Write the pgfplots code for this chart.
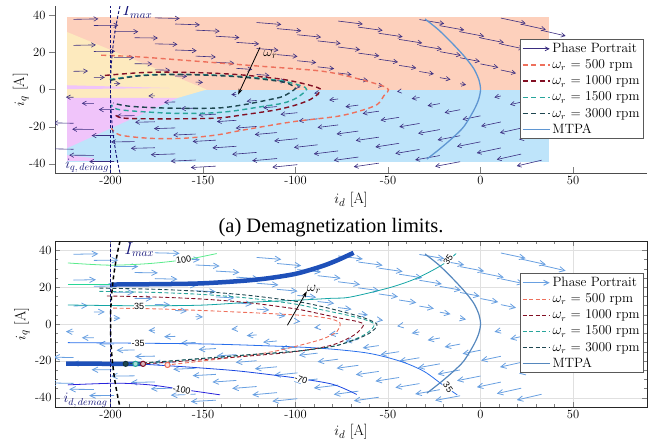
\documentclass[border=0pt]{standalone}
\usepackage{fontspec}
\newfontfamily\timesf{Liberation Serif}
\newfontfamily\arialf{Liberation Sans}
\usepackage{pgfplots}
\usepackage{pgfplotstable}
\pgfplotsset{compat=1.18}
\usetikzlibrary{arrows.meta}
\definecolor{peach}{RGB}{253,208,188}
\definecolor{lblue}{RGB}{190,228,250}
\definecolor{lyellow}{RGB}{253,234,190}
\definecolor{lpink}{RGB}{240,196,250}
\definecolor{navyq}{RGB}{58,45,128}
\definecolor{qblue}{RGB}{105,160,225}
\definecolor{c500}{RGB}{238,112,92}
\definecolor{c1000}{RGB}{130,15,35}
\definecolor{c1500}{RGB}{40,165,155}
\definecolor{c3000}{RGB}{30,70,80}
\definecolor{mtpa}{RGB}{95,150,210}
\definecolor{navyl}{RGB}{20,20,120}
\definecolor{thickc}{RGB}{30,80,185}
\definecolor{k100}{RGB}{90,235,140}
\definecolor{k70}{RGB}{40,215,150}
\definecolor{k35}{RGB}{20,165,165}
\definecolor{km35}{RGB}{40,110,235}
\definecolor{km70}{RGB}{25,70,225}
\definecolor{km100}{RGB}{40,35,220}

\pgfplotstableread{
x y u v
-220 37.8 13.4 0.27
-220 23.8 12.1 0.24
-220 9.8 7.8 0.16
-220 -4.2 -4.1 0.08
-220 -18.2 -10.9 0.22
-220 -32.2 -13.0 0.26
-209 34.5 13.2 0.12
-209 20.5 11.5 0.10
-209 6.5 5.9 0.05
-209 -7.5 -6.5 0.06
-209 -21.5 -11.7 0.10
-209 -35.5 -13.3 0.12
-198 31.2 13.0 -0.03
-198 17.2 10.7 -0.02
-198 3.2 3.3 -0.01
-198 -10.8 -8.3 -0.02
-198 -24.8 -12.2 -0.02
-198 -38.8 -13.5 -0.03
-187 27.9 12.6 -0.16
-187 13.9 9.6 -0.12
-187 -14.1 -9.7 -0.13
-187 -28.1 -12.7 -0.16
-176 38.6 13.4 -0.32
-176 24.6 12.2 -0.29
-176 10.6 8.2 -0.20
-176 -3.4 -3.5 -0.08
-176 -17.4 -10.7 -0.26
-176 -31.4 -13.0 -0.31
-165 35.3 13.3 -0.46
-165 21.3 11.6 -0.41
-165 7.3 6.4 -0.22
-165 -6.7 -6.0 -0.21
-165 -20.7 -11.5 -0.40
-165 -34.7 -13.2 -0.46
-154 32 13.0 -0.60
-154 18 10.9 -0.50
-154 4 4.0 -0.18
-154 -10 -7.9 -0.36
-154 -24 -12.1 -0.56
-154 -38 -13.4 -0.62
-143 28.7 12.7 -0.73
-143 14.7 9.9 -0.56
-143 -13.3 -9.4 -0.53
-143 -27.3 -12.6 -0.72
-143 -41.3 -13.6 -0.77
-132 25.4 12.3 -0.84
-132 11.4 8.6 -0.58
-132 -2.6 -2.7 -0.19
-132 -16.6 -10.5 -0.71
-132 -30.6 -12.9 -0.88
-121 36.1 13.3 -1.05
-121 22.1 11.8 -0.93
-121 8.1 6.9 -0.54
-121 -5.9 -5.4 -0.43
-121 -19.9 -11.3 -0.90
-121 -33.9 -13.2 -1.04
-110 32.8 13.1 -1.18
-110 18.8 11.1 -1.00
-110 4.8 4.6 -0.42
-110 -9.2 -7.5 -0.67
-110 -23.2 -12.0 -1.08
-110 -37.2 -13.4 -1.20
-99 29.5 12.8 -1.29
-99 15.5 10.2 -1.03
-99 1.5 1.6 -0.17
-99 -12.5 -9.1 -0.91
-99 -26.5 -12.5 -1.26
-99 -40.5 -13.5 -1.37
-88 26.2 12.4 -1.39
-88 12.2 8.9 -1.00
-88 -1.8 -1.9 -0.22
-88 -15.8 -10.2 -1.15
-88 -29.8 -12.8 -1.44
-77 36.9 13.4 -1.64
-77 22.9 11.9 -1.47
-77 8.9 7.3 -0.90
-77 -5.1 -4.8 -0.60
-77 -19.1 -11.1 -1.37
-77 -33.1 -13.1 -1.61
-66 33.6 13.1 -1.76
-66 19.6 11.3 -1.51
-66 5.6 5.2 -0.70
-66 -8.4 -7.0 -0.94
-66 -22.4 -11.8 -1.59
-66 -36.4 -13.3 -1.79
-55 30.3 12.9 -1.87
-55 16.3 10.4 -1.51
-55 2.3 2.4 -0.35
-55 -11.7 -8.7 -1.26
-55 -25.7 -12.4 -1.79
-55 -39.7 -13.5 -1.95
-44 27 12.5 -1.95
-44 13 9.3 -1.44
-44 -1 -1.1 -0.17
-44 -15 -10.0 -1.56
-44 -29 -12.8 -1.99
-33 37.7 13.4 -2.24
-33 23.7 12.1 -2.01
-33 9.7 7.8 -1.30
-33 -4.3 -4.2 -0.70
-33 -18.3 -10.9 -1.83
-33 -32.3 -13.0 -2.18
-22 34.4 13.2 -2.35
-22 20.4 11.4 -2.04
-22 6.4 5.8 -1.03
-22 -7.6 -6.6 -1.17
-22 -21.6 -11.7 -2.08
-22 -35.6 -13.3 -2.36
-11 31.1 13.0 -2.45
-11 17.1 10.6 -2.01
-11 3.1 3.2 -0.60
-11 -10.9 -8.4 -1.58
-11 -24.9 -12.2 -2.31
-11 -38.9 -13.5 -2.54
0 27.8 12.6 -2.52
0 13.8 9.6 -1.91
0 -14.2 -9.7 -1.94
0 -28.2 -12.7 -2.53
11 38.5 13.4 -2.84
11 24.5 12.2 -2.57
11 10.5 8.2 -1.72
11 -3.5 -3.5 -0.75
11 -17.5 -10.7 -2.27
11 -31.5 -13.0 -2.74
22 35.2 13.3 -2.94
22 21.2 11.6 -2.58
22 7.2 6.3 -1.40
22 -6.8 -6.0 -1.34
22 -20.8 -11.5 -2.56
22 -34.8 -13.2 -2.93
33 31.9 13.0 -3.03
33 17.9 10.9 -2.53
33 3.9 3.9 -0.90
33 -10.1 -8.0 -1.86
33 -24.1 -12.1 -2.82
33 -38.1 -13.4 -3.13
}\quiv

\pgfplotsset{
  base/.style={
    scale only axis, width=592pt,
    xmin=-230, xmax=90, ymin=-45, ymax=45,
    xtick={-200,-150,-100,-50,0,50}, xticklabels={-200,-150,-100,-50,0,50},
    ytick={-40,-20,0,20,40}, yticklabels={-40,-20,0,20,40},
    tick label style={font=\fontsize{12.5}{14}\selectfont},
    label style={font=\fontsize{15}{17}\selectfont},
    xlabel={$i_d$ [A]}, ylabel={$i_q$ [A]},
    legend cell align=left,
    legend image code/.code={\draw[##1] (0cm,0cm) -- (0.95cm,0cm);},
    legend style={font=\fontsize{13.5}{15}\selectfont, fill=white,
      draw=black!65, line width=0.9pt, inner sep=1.5pt, row sep=1.6pt,
      at={(0.7855,0.80)}, anchor=north west},
  },
}

\begin{document}
\begin{tikzpicture}
\useasboundingbox (0,0) rectangle (655pt,445pt);

% ================= TOP =================
\begin{axis}[base, at={(55pt,272pt)}, anchor=south west, height=167pt,
  axis x line*=bottom, axis y line*=left, axis line style={-, black!70, line width=0.8pt},
  xtick align=inside, ytick align=outside, major tick length=6pt,
  xlabel style={at={(axis description cs:0.5,-0.162)}, anchor=center},
  ylabel style={at={(axis description cs:-0.058,0.5)}, anchor=center},
]
\addplot[fill=lblue, draw=none, forget plot] coordinates {(-223.5,-39) (37,-39) (37,0) (-223.5,0)} -- cycle;
\addplot[fill=peach, draw=none, forget plot] coordinates {(-223.5,0) (37,0) (37,39) (-223.5,39)} -- cycle;
\addplot[fill=lyellow, draw=none, forget plot] coordinates {(-223.5,31) (-148,0) (-163.5,-4.5) (-223.5,-4.5)} -- cycle;
\addplot[fill=lpink, draw=none, forget plot] coordinates {(-223.5,-4.5) (-163.5,-4.5) (-223.5,-31.6)} -- cycle;
\addplot[fill=lpink, draw=none, forget plot] coordinates {(-223.5,0.2) (-168,0.8) (-223.5,2.3)} -- cycle;
\addplot[fill=lpink, draw=none, forget plot] coordinates {(-223.5,-35.4) (-209,-37) (-209,-38.5) (-223.5,-38.5)} -- cycle;

\addplot[navyq, line width=0.6pt, -{Straight Barb[length=4pt,width=4.5pt]},
  quiver={u=\thisrow{u}, v=\thisrow{v}}, forget plot] table[x=x,y=y] {\quiv};

\addlegendimage{navyq, line width=0.7pt, -{Straight Barb[length=4pt,width=4pt]}}
\addlegendentry{Phase Portrait}

\addplot[c500, line width=1.4pt, dash pattern=on 5pt off 3.5pt, smooth] coordinates {
(-205,18.5) (-185,17.6) (-155.5,15.4) (-121,12.7) (-86.7,10) (-68.6,6.4) (-50.5,0.9)
(-52.4,-3.6) (-56,-8.2) (-65,-11.5) (-77.6,-14.5) (-101,-17.3) (-128,-21.8) (-142.6,-24.5)
(-160.7,-26.3) (-178.8,-26.3) (-195,-24.5) (-199.5,-20.9)};
\addlegendentry{$\omega_r$ = 500 rpm}
\addplot[c1000, line width=1.4pt, dash pattern=on 5pt off 3.5pt, smooth] coordinates {
(-203,7.6) (-185,9) (-169.7,9.4) (-150,9) (-133.6,8.2) (-120,7) (-106.5,5.4) (-95,3) (-86.7,0.4)
(-88,-2.5) (-92,-5.4) (-99.3,-8.2) (-110,-10.9) (-128,-13.6) (-142.6,-15.4) (-169.7,-15.8)
(-193.2,-15.4) (-198.6,-12.7)};
\addlegendentry{$\omega_r$ = 1000 rpm}
\addplot[c1500, line width=1.4pt, dash pattern=on 5pt off 3.5pt, smooth] coordinates {
(-200.4,5.4) (-185,7.5) (-169.7,8.2) (-150,8) (-133.6,7.3) (-120,6.2) (-106.5,4.5) (-97,2) (-94,0)
(-99.3,-4.5) (-106.5,-7.3) (-117.4,-9.1) (-135.4,-11.8) (-150,-12.8) (-169.7,-12.7) (-195,-10.9) (-199.5,-8.2)};
\addlegendentry{$\omega_r$ = 1500 rpm}
\addplot[c3000, line width=1.4pt, dash pattern=on 5pt off 3.5pt, smooth] coordinates {
(-200,5) (-185,7.3) (-169.7,8) (-150,7.8) (-133.6,7) (-120,5.8) (-106.5,4) (-101.5,2) (-100,0.5)
(-106.5,-3.6) (-113.8,-5.4) (-128,-8.2) (-142.6,-10) (-169.7,-10) (-190,-9) (-198.6,-7.3)};
\addlegendentry{$\omega_r$ = 3000 rpm}
\addplot[mtpa, line width=1.3pt, smooth] coordinates {
(-30,38) (-22.5,32) (-14.4,24) (-8,17) (-3.5,11) (-0.8,5) (0,0) (-0.9,-5) (-3.5,-11) (-9,-20) (-15,-26) (-22,-32) (-29,-37.5)};
\addlegendentry{MTPA}

\addplot[navyl, line width=0.9pt, dash pattern=on 3pt off 2pt, forget plot] coordinates {(-200,-45) (-200,45)};
\addplot[navyl, line width=0.9pt, dash pattern=on 3pt off 2pt, smooth, forget plot] coordinates {
(-194.87,45) (-195.96,40) (-196.91,35) (-197.74,30) (-198.43,25) (-199,20) (-199.44,15) (-199.75,10) (-199.94,5) (-200,0)
(-199.94,-5) (-199.75,-10) (-199.44,-15) (-199,-20) (-198.43,-25) (-197.74,-30) (-196.91,-35) (-195.96,-40) (-194.87,-45)};

\draw[-{Stealth[length=6pt,width=4pt]}, line width=0.8pt] (axis cs:-119.2,22.7) -- (axis cs:-131,-2.7);
\node[anchor=west, font=\fontsize{14}{16}\selectfont, inner sep=1pt] at (axis cs:-118,19) {$\omega_r$};
\node[anchor=west, text=navyl, font=\fontsize{16}{18}\selectfont, inner sep=0pt] at (axis cs:-193.5,42.3) {$I_{max}$};
\node[anchor=west, text=navyl, font=\fontsize{14}{16}\selectfont, inner sep=0pt] at (axis cs:-224.5,-41.3) {$i_{q,\,demag}$};
\end{axis}

\node[font=\timesf\fontsize{20.5}{23}\selectfont] at (331pt,217pt) {(a) Demagnetization limits.};

% ================= BOTTOM =================
\begin{axis}[base, at={(55pt,38pt)}, anchor=south west, height=166pt,
  axis line style={black!85, line width=0.8pt},
  tick align=inside, tick pos=both, major tick length=5pt, minor tick length=3pt,
  minor x tick num=4, minor y tick num=3,
  grid=major, grid style={black!12, line width=0.4pt},
  xlabel style={at={(axis description cs:0.5,-0.15)}, anchor=center},
  ylabel style={at={(axis description cs:-0.056,0.5)}, anchor=center},
  legend style={at={(0.7855,0.805)}},
]
\addplot[qblue, line width=0.8pt, -{Straight Barb[length=5.5pt,width=5.5pt]},
  quiver={u=\thisrow{u}, v=\thisrow{v}}, forget plot] table[x=x,y=y] {\quiv};

% torque contours
\addplot[k100, line width=0.8pt, smooth, forget plot] coordinates {(-223,33.1) (-200.4,31.9) (-178.8,32.8) (-158.9,35) (-142.6,38.2)};
\addplot[k70, line width=0.8pt, forget plot] coordinates {(-223,21.4) (-200,21.4)};
\addplot[k35, line width=0.8pt, smooth, forget plot] coordinates {(-223,10.3) (-185,9.9) (-151.7,10.2) (-124.6,11.8) (-101.1,12.8) (-81.3,13.9) (-70.4,14.6) (-48.8,19.8) (-34.3,24.9) (-20.7,32.1) (-13.2,38.2)};
\addplot[km35, line width=0.8pt, smooth, forget plot] coordinates {(-223,-10.1) (-185,-10.4) (-150,-10.8) (-124.6,-11.5) (-88.5,-13) (-61.4,-15.7) (-43.3,-20.2) (-30.7,-25.6) (-20.7,-32.8) (-12.6,-38.4)};
\addplot[km70, line width=0.8pt, smooth, forget plot] coordinates {(-182.4,-21.8) (-160,-23.2) (-133.6,-25.2) (-115,-27.3) (-97.5,-29.6) (-79.5,-32.8) (-66.9,-38.2)};
\addplot[km100, line width=0.8pt, smooth, forget plot] coordinates {(-223,-33) (-196.8,-32.1) (-178.8,-33) (-161.6,-35.4) (-140.8,-38.4)};

% thick trajectory
\addplot[thickc, line width=4.5pt, smooth, forget plot] coordinates {(-200,21.4) (-175,21.6) (-151.7,22) (-130,23.3) (-115.6,24.7) (-100,27.2) (-86.7,31) (-78,34.3) (-68.6,38.6)};
\addplot[thickc, line width=4.5pt, forget plot] coordinates {(-224,-21.5) (-183,-21.6)};

\addlegendimage{qblue, line width=0.9pt, -{Straight Barb[length=5pt,width=5pt]}}
\addlegendentry{Phase Portrait}

\addplot[c500, line width=0.9pt, dash pattern=on 4pt off 2.5pt, smooth] coordinates {
(-198.6,8.6) (-175,8.2) (-150,7.3) (-125,6.2) (-105,5.2) (-92,4.4) (-82,3) (-77.3,1.5) (-75.8,0) (-77.6,-4.1) (-85,-8) (-97.5,-11.5) (-110,-14.5) (-124.6,-17) (-150,-20) (-169.2,-22.2)};
\addlegendentry{$\omega_r$ = 500 rpm}
\addplot[c1000, line width=0.9pt, dash pattern=on 4pt off 2.5pt, smooth] coordinates {
(-202,15.2) (-175,14.6) (-150,13.5) (-125,11.5) (-100,8.2) (-86.7,5.5) (-75,3) (-66,1.2) (-63.2,-0.5) (-66.8,-4.9) (-72,-8) (-79.5,-11.2) (-90,-13.5) (-106.6,-15.7) (-124.6,-17.3) (-150,-19.3) (-170,-20.8) (-182.4,-21.6)};
\addlegendentry{$\omega_r$ = 1000 rpm}
\addplot[c1500, line width=0.9pt, dash pattern=on 4pt off 2.5pt, smooth] coordinates {
(-206,17.7) (-175,17.1) (-150,16) (-125,14) (-100,10.8) (-86.7,7.9) (-72,4.8) (-62,2.2) (-57.5,0) (-59,-3) (-64,-6.5) (-72,-9.8) (-80,-12.2) (-100,-14.8) (-124.6,-16.7) (-150,-18.7) (-170,-20.3) (-186.5,-21.6)};
\addlegendentry{$\omega_r$ = 1500 rpm}
\addplot[c3000, line width=0.9pt, dash pattern=on 4pt off 2.5pt, smooth] coordinates {
(-206,19.5) (-175,18.8) (-150,17.6) (-125,15.5) (-100,12.3) (-86.7,9.7) (-72,6) (-62,3) (-56,0) (-57,-2.5) (-61.4,-5.8) (-70,-9.3) (-79.5,-12) (-100,-14.8) (-124.6,-16.6) (-150,-18.6) (-170,-20.2) (-191.8,-21.6)};
\addlegendentry{$\omega_r$ = 3000 rpm}
\addplot[mtpa!90!black, line width=1.2pt, smooth] coordinates {
(-30,38) (-22.5,32) (-14.4,24) (-8,17) (-3.5,11) (-0.8,5) (0,0) (-0.9,-5) (-3.5,-11) (-9,-20) (-15,-26) (-22,-32) (-29,-37.5)};
\addlegendentry{MTPA}

% operating points
\addplot[only marks, mark=*, mark size=2.6pt, draw=c3000!70!black, fill=c3000, line width=0.8pt, forget plot] coordinates {(-191.8,-21.6)};
\addplot[only marks, mark=*, mark size=2.6pt, draw=c1500, fill=c1500!40!white, line width=1pt, forget plot] coordinates {(-186.5,-21.6)};
\addplot[only marks, mark=*, mark size=2.6pt, draw=c1000, fill=c1000!30!white, line width=1pt, forget plot] coordinates {(-182.4,-21.6)};
\addplot[only marks, mark=*, mark size=2.6pt, draw=c500, fill=c500!20!white, line width=1pt, forget plot] coordinates {(-169.2,-22.2)};

\addplot[navyl, line width=0.8pt, dash pattern=on 3pt off 2pt, forget plot] coordinates {(-200,-45) (-200,45)};
\addplot[black, line width=1.5pt, dash pattern=on 4pt off 3pt, smooth, forget plot] coordinates {
(-194.87,45) (-195.96,40) (-196.91,35) (-197.74,30) (-198.43,25) (-199,20) (-199.44,15) (-199.75,10) (-199.94,5) (-200,0)
(-199.94,-5) (-199.75,-10) (-199.44,-15) (-199,-20) (-198.43,-25) (-197.74,-30) (-196.91,-35) (-195.96,-40) (-194.87,-45)};

\begin{scope}[every node/.style={font=\arialf\fontsize{9}{10}\selectfont, inner sep=0.5pt, fill=white}]
\node[rotate=9] at (axis cs:-160.5,34.9) {100};
\node at (axis cs:-184.5,9.8) {35};
\node at (axis cs:-185,-10.5) {-35};
\node[rotate=-20] at (axis cs:-97,-30.1) {-70};
\node[rotate=-12] at (axis cs:-161.5,-35.8) {-100};
\node[rotate=55] at (axis cs:-17.5,35) {35};
\node[rotate=-55] at (axis cs:-17.5,-34.3) {35};
\end{scope}

\draw[-{Stealth[length=6pt,width=4pt]}, line width=0.8pt] (axis cs:-104.4,-0.7) -- (axis cs:-93.9,17.7);
\node[anchor=south west, font=\fontsize{14}{16}\selectfont, inner sep=1pt] at (axis cs:-94.5,16) {$\omega_r$};
\node[anchor=west, text=navyl, font=\fontsize{16}{18}\selectfont, inner sep=0pt] at (axis cs:-192.5,40.3) {$I_{max}$};
\node[anchor=west, text=navyl, font=\fontsize{14}{16}\selectfont, inner sep=0pt] at (axis cs:-225.5,-41.3) {$i_{d,\,demag}$};
\end{axis}
\end{tikzpicture}
\end{document}
